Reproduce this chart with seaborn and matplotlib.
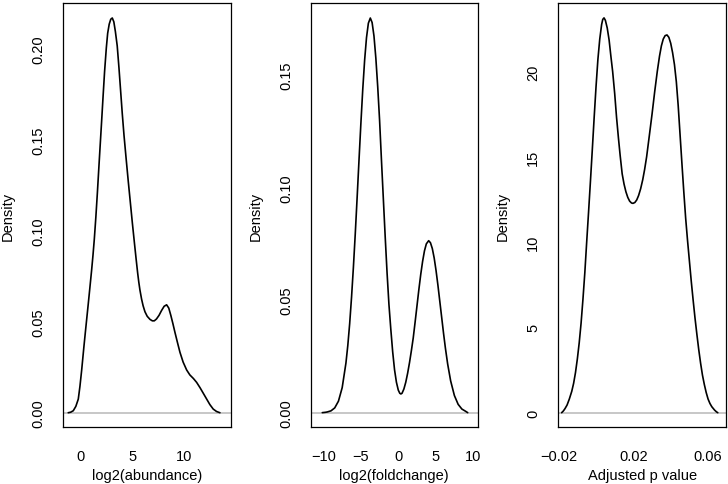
import matplotlib
matplotlib.use("Agg")
import matplotlib.pyplot as plt
import seaborn as sns
import pandas as pd

# ---- data (density curves) ----
abund_x = [-1.24, -1.0, -0.75, -0.5, -0.26, -0.1, 0.07, 0.18, 0.29, 0.42, 0.55, 0.71, 0.87,
           1.04, 1.17, 1.3, 1.45, 1.6, 1.75, 1.85, 2.01, 2.15, 2.3, 2.47, 2.6, 2.75, 2.9, 3.05,
           3.2, 3.35, 3.53, 3.7, 3.86, 4.02, 4.19, 4.4, 4.6, 4.8, 5.0, 5.22, 5.37, 5.52, 5.63,
           5.74, 5.9, 6.05, 6.23, 6.45, 6.72, 6.95, 7.14, 7.35, 7.6, 7.85, 8.1, 8.34, 8.55,
           8.75, 8.95, 9.15, 9.4, 9.64, 9.95, 10.29, 10.6, 10.95, 11.26, 11.6, 11.9, 12.24,
           12.55, 12.88, 13.2, 13.53]
abund_y = [0.0, 0.0003, 0.0011, 0.0035, 0.0075, 0.0145, 0.0235, 0.030, 0.0365, 0.0438, 0.051,
           0.0598, 0.0688, 0.0785, 0.0865, 0.0954, 0.1075, 0.121, 0.1355, 0.145, 0.160, 0.1735,
           0.1875, 0.2005, 0.2085, 0.2135, 0.2162, 0.2169, 0.2148, 0.2095, 0.2016, 0.1895,
           0.177, 0.1645, 0.1525, 0.1395, 0.1275, 0.116, 0.1045, 0.0925, 0.0845, 0.0768,
           0.0718, 0.0675, 0.0625, 0.0588, 0.0555, 0.0530, 0.0513, 0.0505, 0.0505, 0.0515,
           0.0535, 0.0562, 0.0585, 0.0593, 0.0575, 0.0535, 0.0490, 0.0442, 0.0385, 0.0332,
           0.0278, 0.0235, 0.0208, 0.0188, 0.0167, 0.0137, 0.0108, 0.0075, 0.0045, 0.0020,
           0.0007, 0.0]

fold_x = [-10.16, -9.75, -9.5, -9.0, -8.5, -8.0, -7.5, -7.0, -6.75, -6.5, -6.25, -6.0, -5.75,
          -5.5, -5.25, -5.0, -4.75, -4.5, -4.25, -4.0, -3.74, -3.5, -3.25, -3.0, -2.75, -2.5,
          -2.25, -2.0, -1.75, -1.5, -1.25, -1.0, -0.75, -0.5, -0.25, 0.0, 0.2, 0.35, 0.5,
          0.75, 1.0, 1.25, 1.5, 1.75, 2.0, 2.25, 2.5, 2.75, 3.0, 3.25, 3.5, 3.75, 4.06, 4.3,
          4.55, 4.8, 5.05, 5.3, 5.55, 5.8, 6.05, 6.3, 6.6, 7.0, 7.5, 8.0, 8.5, 9.0, 9.28]
fold_y = [0.0, 0.00015, 0.0003, 0.0008, 0.0021, 0.0051, 0.0111, 0.0220, 0.0298, 0.0395,
          0.0512, 0.0646, 0.0795, 0.0956, 0.1122, 0.1284, 0.1435, 0.1564, 0.1664, 0.1728,
          0.1751, 0.1731, 0.1671, 0.1573, 0.1446, 0.1297, 0.112, 0.095, 0.078, 0.062, 0.048,
          0.037, 0.027, 0.019, 0.0135, 0.0100, 0.0086, 0.0083, 0.0086, 0.0105, 0.0135, 0.0175,
          0.0222, 0.0275, 0.0332, 0.0402, 0.0474, 0.0546, 0.0613, 0.0671, 0.0718, 0.0749,
          0.0763, 0.0754, 0.0728, 0.0686, 0.0630, 0.0565, 0.0494, 0.0423, 0.0352, 0.0286,
          0.0216, 0.0141, 0.0076, 0.0037, 0.0016, 0.0006, 0.0]

padj_x = [-0.0184, -0.0175, -0.0166, -0.0155, -0.0143, -0.013, -0.012, -0.011, -0.010,
          -0.009, -0.008, -0.007, -0.006, -0.005, -0.004, -0.003, -0.002, -0.001, 0.0, 0.001,
          0.002, 0.003, 0.0036, 0.00428, 0.005, 0.006, 0.007, 0.008, 0.0089, 0.010, 0.011,
          0.012, 0.0129, 0.014, 0.015, 0.016, 0.017, 0.018, 0.019, 0.0198, 0.0208, 0.0218,
          0.0228, 0.0239, 0.025, 0.026, 0.0271, 0.0285, 0.030, 0.0314, 0.0328, 0.034, 0.035,
          0.036, 0.037, 0.038, 0.039, 0.040, 0.041, 0.042, 0.043, 0.044, 0.045, 0.046, 0.047,
          0.048, 0.049, 0.050, 0.051, 0.052, 0.053, 0.054, 0.055, 0.056, 0.057, 0.058, 0.059,
          0.060, 0.061, 0.062, 0.0635, 0.0645, 0.0652]
padj_y = [0.0, 0.10, 0.24, 0.45, 0.80, 1.25, 1.72, 2.35, 3.15, 4.1, 5.25, 6.65, 8.2, 10.0,
          11.75, 13.55, 15.4, 17.3, 19.1, 20.7, 21.9, 22.75, 23.05, 23.14, 23.0, 22.55, 21.85,
          20.85, 20.0, 18.7, 17.3, 16.1, 15.1, 14.0, 13.4, 12.95, 12.62, 12.4, 12.29, 12.27,
          12.32, 12.47, 12.73, 13.13, 13.65, 14.24, 15.0, 16.2, 17.5, 18.8, 20.0, 20.9, 21.5,
          21.9, 22.1, 22.14, 22.0, 21.65, 21.1, 20.4, 19.4, 18.0, 16.3, 14.6, 12.95, 11.4,
          10.1, 8.9, 7.7, 6.6, 5.55, 4.6, 3.7, 2.9, 2.2, 1.65, 1.18, 0.80, 0.54, 0.35, 0.15,
          0.05, 0.0]

x_labels = ["log2(abundance)", "log2(foldchange)", "Adjusted p value"]
y_label = "Density"

abund_xticks = [0, 5, 10]
abund_xticklabels = ["0", "5", "10"]
abund_yticks = [0.0, 0.05, 0.10, 0.15, 0.20]
abund_yticklabels = ["0.00", "0.05", "0.10", "0.15", "0.20"]

fold_xticks = [-10, -5, 0, 5, 10]
fold_xticklabels = ["\u221210", "\u22125", "0", "5", "10"]
fold_yticks = [0.0, 0.05, 0.10, 0.15]
fold_yticklabels = ["0.00", "0.05", "0.10", "0.15"]

padj_xticks = [-0.02, 0.0, 0.02, 0.04, 0.06]
padj_xticklabels = ["\u22120.02", "", "0.02", "", "0.06"]
padj_yticks = [0, 5, 10, 15, 20]
padj_yticklabels = ["0", "5", "10", "15", "20"]

# ---- style ----
sns.set_style("white")
plt.rcParams["font.family"] = ["Liberation Sans", "DejaVu Sans"]
plt.rcParams["axes.unicode_minus"] = True
FS = 10.5

W, H = 728, 485
fig = plt.figure(figsize=(W / 100, H / 100), dpi=100)

panels = [
    dict(x=abund_x, y=abund_y, box=(63.3, 230.7), xlim=(-1.72, 14.58), ylim=(-0.0080, 0.2253),
         xt=abund_xticks, xtl=abund_xticklabels, yt=abund_yticks, ytl=abund_yticklabels,
         xlabel=x_labels[0]),
    dict(x=fold_x, y=fold_y, box=(311.0, 477.5), xlim=(-11.67, 10.59), ylim=(-0.0065, 0.1819),
         xt=fold_xticks, xtl=fold_xticklabels, yt=fold_yticks, ytl=fold_yticklabels,
         xlabel=x_labels[1]),
    dict(x=padj_x, y=padj_y, box=(558.3, 726.0), xlim=(-0.0202, 0.0696), ylim=(-0.856, 24.03),
         xt=padj_xticks, xtl=padj_xticklabels, yt=padj_yticks, ytl=padj_yticklabels,
         xlabel=x_labels[2]),
]

top_px, bot_px = 3.7, 428.3
for p in panels:
    l, r = p["box"]
    ax = fig.add_axes([l / W, (H - bot_px) / H, (r - l) / W, (bot_px - top_px) / H])
    ax.axhline(0, color="#BEBEBE", lw=1.2, zorder=1)
    df = pd.DataFrame({"x": p["x"], "y": p["y"]})
    sns.lineplot(data=df, x="x", y="y", ax=ax, color="black", lw=1.2,
                 estimator=None, sort=False, zorder=2)
    ax.set_xlim(*p["xlim"])
    ax.set_ylim(*p["ylim"])
    ax.set_xticks(p["xt"])
    ax.set_xticklabels(p["xtl"], fontsize=FS)
    ax.set_yticks(p["yt"])
    ax.set_yticklabels(p["ytl"], fontsize=FS, rotation=90, va="center")
    ax.tick_params(axis="both", direction="out", length=5.5, width=0.9, color="black",
                   labelcolor="black")
    ax.tick_params(axis="x", pad=10.0)
    ax.tick_params(axis="y", pad=7.5)
    for s in ax.spines.values():
        s.set_visible(True)
        s.set_color("black")
        s.set_linewidth(0.9)
    ax.set_xlabel(p["xlabel"], fontsize=FS, color="black")
    ax.set_ylabel(y_label, fontsize=FS, color="black")
    ax.xaxis.set_label_coords(0.5, -0.096)
    ax.yaxis.set_label_coords(-0.29, 0.5)
    ax.grid(False)

fig.savefig("out.png", dpi=100)
